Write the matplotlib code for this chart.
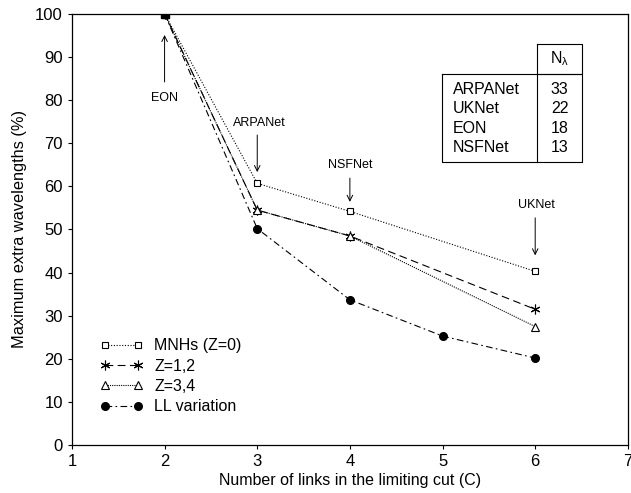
import matplotlib
matplotlib.use("Agg")
import matplotlib.pyplot as plt

plt.rcParams['font.family'] = ['Liberation Sans', 'DejaVu Sans']

x_mnh = [2, 3, 4, 6]
y_mnh = [100, 60.7, 54.2, 40.3]
x_z12 = [2, 3, 4, 6]
y_z12 = [100, 54.5, 48.5, 31.5]
x_z34 = [2, 3, 4, 6]
y_z34 = [100, 54.5, 48.5, 27.5]
x_ll = [2, 3, 4, 5, 6]
y_ll = [100, 50.2, 33.7, 25.3, 20.2]

nets = ["ARPANet", "UKNet", "EON", "NSFNet"]
nlambda = ["33", "22", "18", "13"]

fig = plt.figure(figsize=(6.31, 4.93), dpi=100)
ax = fig.add_axes([0.114, 0.097, 0.881, 0.875])

k = 'black'
ax.plot(x_mnh, y_mnh, linestyle=(0, (1, 1.5)), color=k, lw=0.8, marker='s', ms=5,
        mfc='white', mec=k, mew=0.8, label='MNHs (Z=0)')
ax.plot(x_z12, y_z12, linestyle=(0, (7, 4)), color=k, lw=0.8, marker=(6, 2, 0), ms=7,
        mfc='white', mec=k, mew=0.8, label='Z=1,2')
ax.plot(x_z34, y_z34, linestyle=(0, (1, 1)), color=k, lw=0.8, marker='^', ms=6,
        mfc='white', mec=k, mew=0.8, label='Z=3,4')
ax.plot(x_ll, y_ll, linestyle=(0, (6, 3, 1.5, 3)), color=k, lw=0.8, marker='o', ms=5.5,
        mfc=k, mec=k, label='LL variation')
ax.plot([2], [100], marker='s', ms=6, color=k, zorder=5)

ax.set_xlim(1, 7)
ax.set_ylim(0, 100)
ax.set_xticks(range(1, 8))
ax.set_yticks(range(0, 101, 10))
ax.tick_params(direction='out', length=3, labelsize=12, width=0.8)
for s in ax.spines.values():
    s.set_linewidth(0.9)
ax.set_xlabel('Number of links in the limiting cut (C)', fontsize=11.5, labelpad=3)
ax.set_ylabel('Maximum extra wavelengths (%)', fontsize=11.8, labelpad=6)

ap = dict(arrowstyle='->', color=k, lw=0.7, shrinkA=0, shrinkB=0)
ax.annotate('', xy=(2, 95.1), xytext=(2, 84.2), arrowprops=ap)
ax.text(2, 80.5, 'EON', ha='center', va='center', fontsize=9)
ax.annotate('', xy=(3, 63.3), xytext=(3, 71.9), arrowprops=ap)
ax.text(3.02, 74.7, 'ARPANet', ha='center', va='center', fontsize=9)
ax.annotate('', xy=(4, 56.4), xytext=(4, 61.9), arrowprops=ap)
ax.text(4.0, 65.0, 'NSFNet', ha='center', va='center', fontsize=9)
ax.annotate('', xy=(6, 44.0), xytext=(6, 52.7), arrowprops=ap)
ax.text(6.01, 55.7, 'UKNet', ha='center', va='center', fontsize=9)

leg = ax.legend(loc='upper left', bbox_to_anchor=(0.05, 0.248), frameon=False,
                fontsize=11.5, numpoints=2, handlelength=2.7, handletextpad=0.7,
                labelspacing=0.34, borderaxespad=0, borderpad=0)

# table of N_lambda
x0, xm, x1 = 4.99, 6.02, 6.51
ytop, yh, ybot = 93.0, 86.1, 65.7
tk = dict(color=k, lw=0.8)
ax.plot([xm, x1, x1, xm, xm], [ytop, ytop, yh, yh, ytop], **tk)
ax.plot([x0, x1, x1, x0, x0], [yh, yh, ybot, ybot, yh], **tk)
ax.plot([xm, xm], [yh, ybot], **tk)
ax.text((xm + x1) / 2, 89.6, r'N$_\mathregular{λ}$', ha='center', va='center', fontsize=11.5)
rows = [82.4, 78.0, 73.5, 68.9]
for n, v, yy in zip(nets, nlambda, rows):
    ax.text(x0 + 0.12, yy, n, ha='left', va='center', fontsize=11.5)
    ax.text((xm + x1) / 2, yy, v, ha='center', va='center', fontsize=11.5)

fig.savefig('out.png', dpi=100)
